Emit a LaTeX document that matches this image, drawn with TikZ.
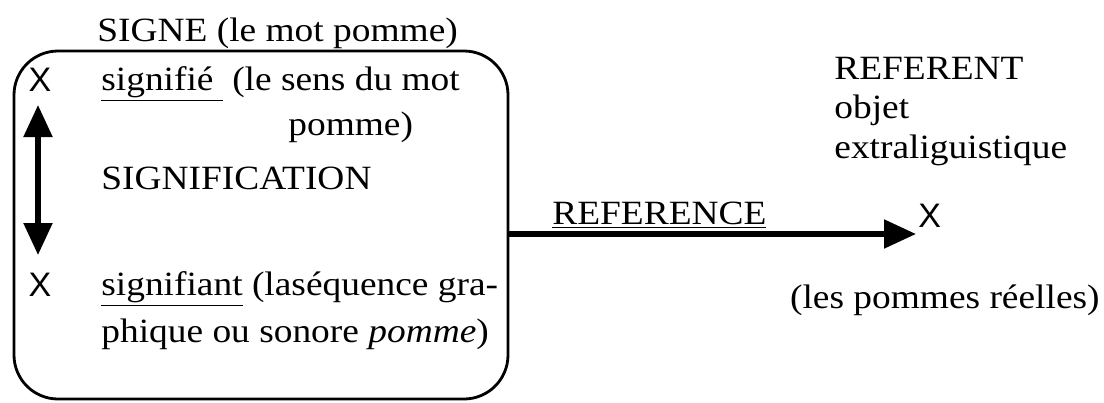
\documentclass[tikz,border=0pt]{standalone}
\usepackage{fontspec}
\setmainfont{Liberation Serif}[FakeStretch=1.1]
\newfontfamily\croixfont{Liberation Sans}
\usetikzlibrary{arrows.meta}

\tikzset{
    txt/.style={inner sep=0pt, font=\fontsize{17}{20}\selectfont},
    croix/.style={inner sep=1pt, font=\croixfont\fontsize{17}{20}\selectfont},
    pointe/.tip={Triangle[length=16pt,width=14pt]},
    fleche/.style={line width=2.6pt, -pointe},
    boite/.style={draw, line width=1.4pt, rounded corners=22pt,
        minimum width=247pt, minimum height=174pt, inner sep=0pt}
}

\begin{document}
\begin{tikzpicture}[x=0.5pt, y=-0.5pt]
        \useasboundingbox (0,0) rectangle (1104,402);

        % le signe
        \node[boite] (signebox) at (261,225) {};
        \node[txt, anchor=base west] (signe) at (97,41) {SIGNE (le mot pomme)};

        \node[croix] (x1) at (40,80) {X};
        \node[txt, anchor=base west] (signifie) at (101,90) {\underline{signifié~}\ (le sens du mot};
        \node[txt, anchor=base west] (pomme) at (288,135) {pomme)};
        \node[txt, anchor=base west] (signification) at (101,189) {SIGNIFICATION};

        \node[croix] (x2) at (40,285) {X};
        \node[txt, anchor=base west] (signifiant) at (101,295) {\underline{signifiant} (laséquence gra-};
        \node[txt, anchor=base west] (phique) at (101,342) {phique ou sonore \textit{pomme})};

        \coordinate (haut) at (38,105);
        \coordinate (bas) at (38,255);
        \draw[line width=2.6pt, pointe-pointe] (haut) -- (bas);

        % le referent
        \node[txt, anchor=base west] (referent) at (834,79) {REFERENT};
        \node[txt, anchor=base west] (objet) at (834,118) {objet};
        \node[txt, anchor=base west] (extra) at (834,158) {extraliguistique};
        \coordinate (bout) at (916,234);
        \node[croix, anchor=south west, inner sep=0pt] (x3) at (918,228) {X};
        \node[txt, anchor=base east] (reelles) at (1100,308) {(les pommes réelles)};

        \node[txt, anchor=base west] (reference) at (552,224) {\underline{REFERENCE}};
        \draw[fleche] (signebox.east |- bout) -- (bout);
    \end{tikzpicture}
\end{document}
